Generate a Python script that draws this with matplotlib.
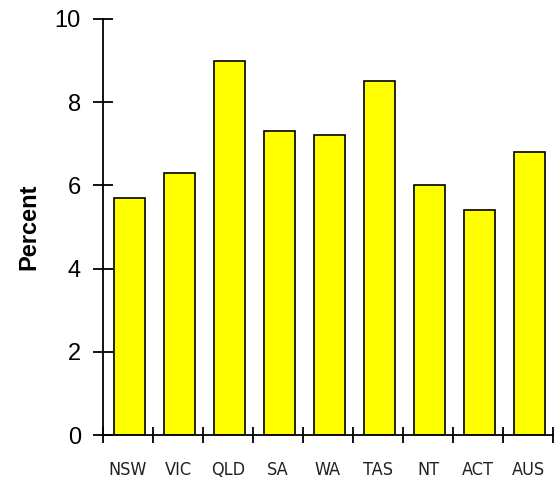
import numpy as np
import matplotlib.pyplot as plt

# Porcentaje por estado / territorio
states = ["NSW", "VIC", "QLD", "SA", "WA", "TAS", "NT", "ACT", "AUS"]
percent = [5.7, 6.3, 9.0, 7.3, 7.2, 8.5, 6.0, 5.4, 6.8]
yticks = [0, 2, 4, 6, 8, 10]

plt.rcParams['font.family'] = ['Liberation Sans', 'DejaVu Sans']

fig = plt.figure(figsize=(5.57, 4.79), dpi=100)
ax = fig.add_axes([103 / 557, 44 / 479, 450 / 557, 416 / 479])

x = np.arange(len(states))
ax.bar(x + 0.03, percent, width=0.63, color="#FFFF00", edgecolor="black", linewidth=1.2)

ax.set_xlim(-0.5, len(states) - 0.5)
ax.set_ylim(0, 10)

ax.spines['top'].set_visible(False)
ax.spines['right'].set_visible(False)
for s in ('left', 'bottom'):
    ax.spines[s].set_linewidth(1.3)

ax.set_yticks(yticks)
ax.tick_params(axis='y', direction='inout', length=14, width=1.3, pad=9, labelsize=17)

# ticks entre categorias, etiquetas en el centro
ax.set_xticks(np.arange(-0.5, len(states), 1.0))
ax.set_xticklabels([])
ax.set_xticks(x, minor=True)
ax.set_xticklabels(states, minor=True, fontsize=13, family='DejaVu Sans',
                   fontstretch='condensed', color='#222222')
ax.tick_params(axis='x', which='major', direction='inout', length=11, width=1.3)
ax.tick_params(axis='x', which='minor', length=0, pad=19)

ax.set_ylabel("Percent", fontsize=17, fontweight='bold')
ax.yaxis.set_label_coords(-0.14, 0.5)

fig.savefig("out.png", dpi=100)
